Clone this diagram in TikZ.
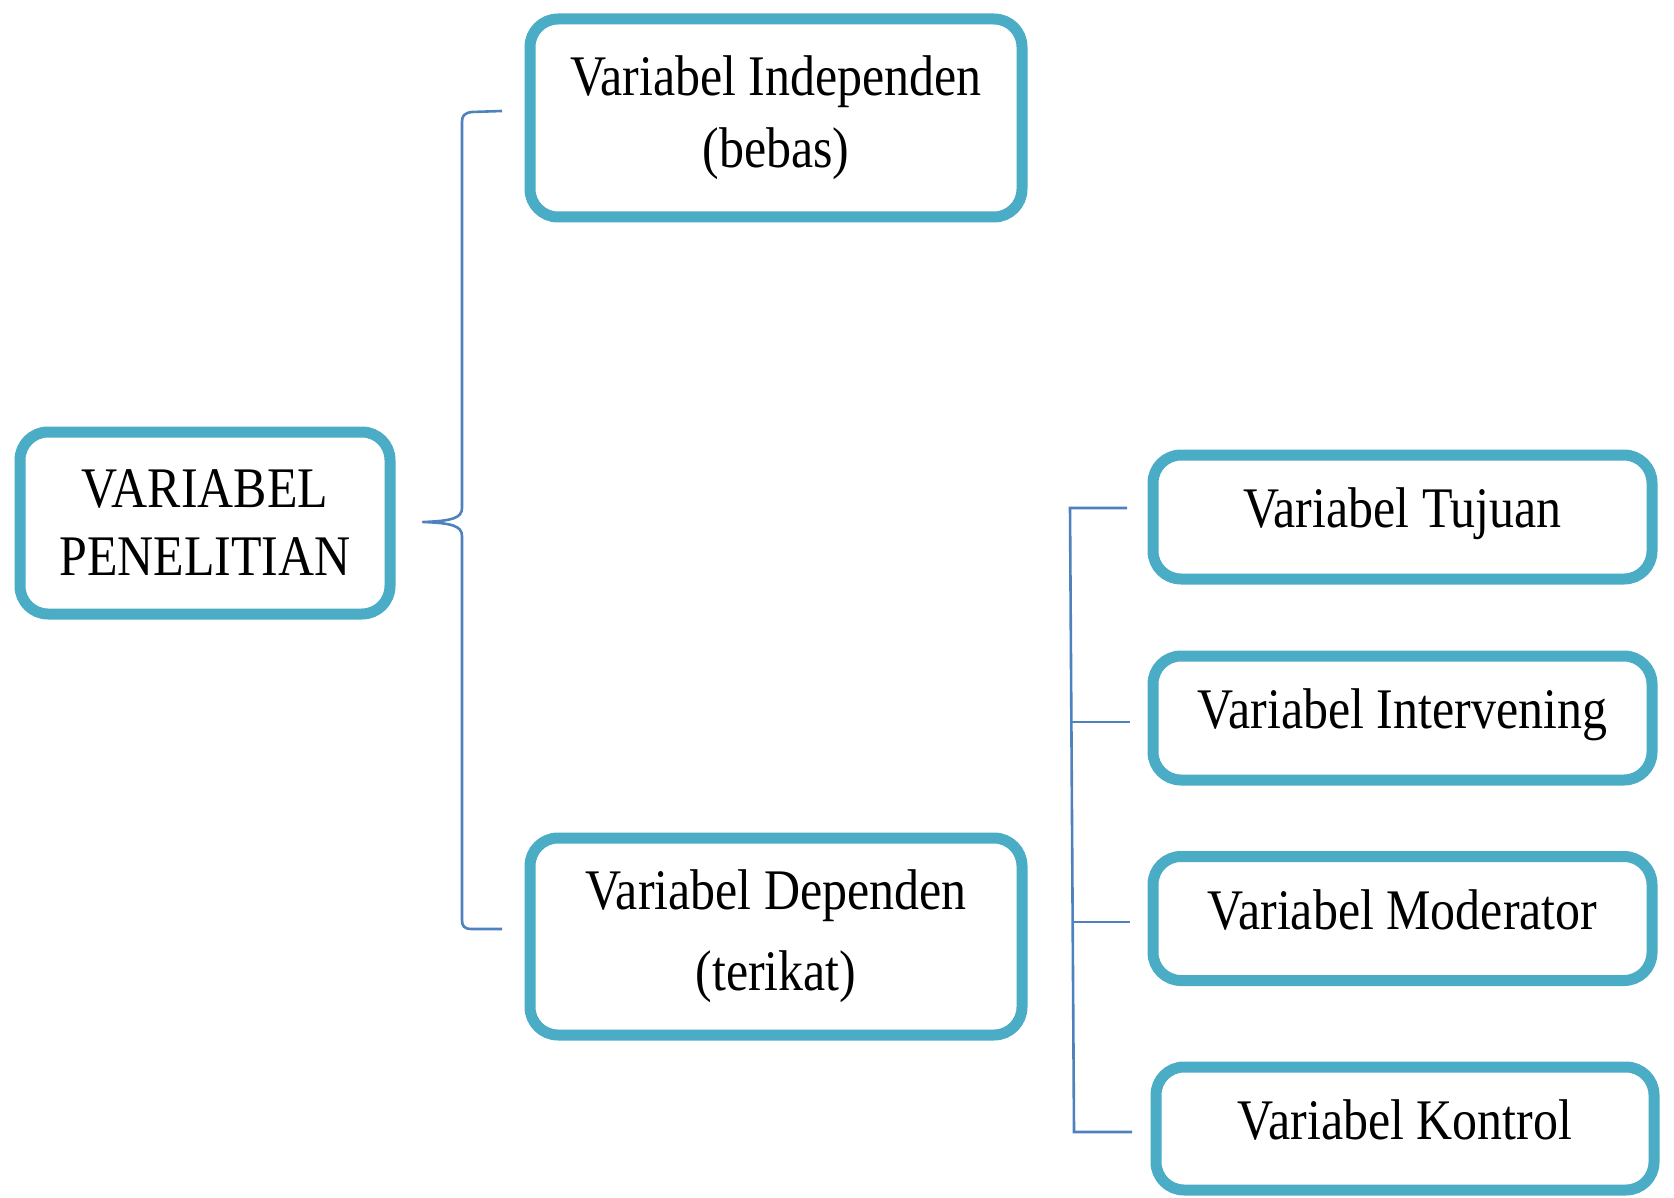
\documentclass[tikz,border=0pt]{standalone}
\usepackage{fontspec}
\setmainfont{Liberation Serif}[FakeStretch=0.87]
\usetikzlibrary{calc}
\definecolor{boxline}{HTML}{4BACC6}
\definecolor{linkline}{HTML}{4F81BD}
\begin{document}
\begin{tikzpicture}[x=0.5pt,y=-0.5pt,
  varbox/.style={draw=boxline, line width=5.5pt, rounded corners=14pt, fill=white,
    align=center, inner sep=0pt, font=\fontsize{28.7}{35}\selectfont},
  onebox/.style={varbox, minimum width=249.5pt, minimum height=62pt, text depth=9pt},
  link/.style={draw=linkline, line width=1.3pt}]
\useasboundingbox (0,0) rectangle (1674,1198);

% boxes
\node[varbox, minimum width=185pt, minimum height=91pt,
      font=\fontsize{28.7}{34}\selectfont] (root) at (205,523) {VARIABEL\\PENELITIAN};
\node[varbox, minimum width=246pt, minimum height=99pt] (indep) at (776,118)
  {Variabel Independen\\[1pt](bebas)};
\node[varbox, minimum width=246pt, minimum height=98.5pt,
      font=\fontsize{28.7}{40.5}\selectfont] (dep) at (776,936.5)
  {Variabel Dependen\\(terikat)};
\node[onebox] (tuj) at (1402.5,517) {Variabel Tujuan};
\node[onebox] (inter) at (1402.5,718) {Variabel Intervening};
\node[onebox] (mod) at (1402.5,918.5) {Variabel Moderator};
\node[onebox, minimum width=249pt, minimum height=61.5pt] (kon) at (1405,1128.5) {Variabel Kontrol};

% brace from the root to the two main variables
\coordinate (btop) at (502,111);
\coordinate (bbot) at (502,929);
\coordinate (btip) at (423,522);
\draw[link, line join=round]
  (btop) -- (472,112) .. controls (464,113) and (462,116) .. (462,122)
  -- (462,508) .. controls (462,518) and (452,521) .. (btip)
  .. controls (452,523) and (462,526) .. (462,536)
  -- (462,920) .. controls (462,926) and (464,929) .. (472,929) -- (bbot);

% bracket from the dependent variable to its kinds
\coordinate (rtop) at (1070,508);
\coordinate (rbot) at (1074,1132);
\draw[link] (1127,508) -- (rtop) -- (rbot) -- (1132,1132);
\draw[link] (1072,722) -- (1130,722);
\draw[link] (1073,922) -- (1130,922);
\end{tikzpicture}
\end{document}
